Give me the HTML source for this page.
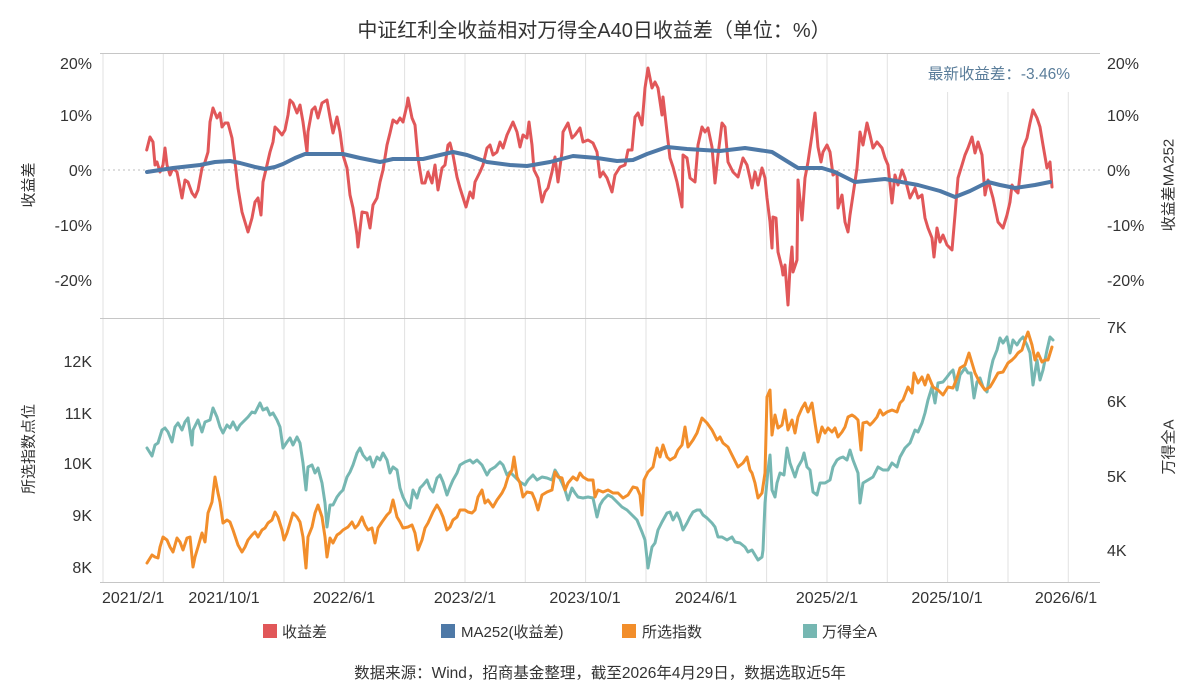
<!DOCTYPE html>
<html><head><meta charset="utf-8"><style>
html,body{margin:0;padding:0;background:#fff;}
svg{display:block;font-family:"Liberation Sans","Noto Sans CJK SC",sans-serif;}
</style></head><body>
<svg width="1200" height="700" viewBox="0 0 1200 700" xmlns="http://www.w3.org/2000/svg">
<rect width="1200" height="700" fill="#fff"/>
<text x="594" y="37" font-size="20" fill="#333" text-anchor="middle">中证红利全收益相对万得全A40日收益差（单位：%）</text>
<g stroke="#e2e2e2" stroke-width="1">
<line x1="103" y1="53" x2="103" y2="582"/><line x1="163.3" y1="53" x2="163.3" y2="582"/><line x1="223.6" y1="53" x2="223.6" y2="582"/><line x1="284" y1="53" x2="284" y2="582"/><line x1="344.3" y1="53" x2="344.3" y2="582"/><line x1="404.6" y1="53" x2="404.6" y2="582"/><line x1="465" y1="53" x2="465" y2="582"/><line x1="525.3" y1="53" x2="525.3" y2="582"/><line x1="585.6" y1="53" x2="585.6" y2="582"/><line x1="646" y1="53" x2="646" y2="582"/><line x1="706.3" y1="53" x2="706.3" y2="582"/><line x1="766.6" y1="53" x2="766.6" y2="582"/><line x1="827" y1="53" x2="827" y2="582"/><line x1="887.3" y1="53" x2="887.3" y2="582"/><line x1="947.6" y1="53" x2="947.6" y2="582"/><line x1="1008" y1="53" x2="1008" y2="582"/><line x1="1068.3" y1="53" x2="1068.3" y2="582"/>
</g>
<rect x="918" y="54" width="158" height="38" fill="#fff"/>
<g stroke="#c6c6c6" stroke-width="1">
<line x1="100" y1="53.5" x2="1100" y2="53.5"/><line x1="100" y1="318.5" x2="1100" y2="318.5"/><line x1="100" y1="582.5" x2="1100" y2="582.5"/>
</g>
<line x1="103" y1="170" x2="1100" y2="170" stroke="#bdbdbd" stroke-width="1" stroke-dasharray="2,3"/>
<text x="1070" y="79" font-size="15.5" fill="#5a7d9a" text-anchor="end">最新收益差：-3.46%</text>
<g font-size="16" fill="#333" text-anchor="end">
<text x="92" y="69">20%</text><text x="92" y="121">10%</text><text x="92" y="176">0%</text><text x="92" y="231">-10%</text><text x="92" y="286">-20%</text>
<text x="92" y="367">12K</text><text x="92" y="419">11K</text><text x="92" y="469">10K</text><text x="92" y="521">9K</text><text x="92" y="573">8K</text>
</g>
<g font-size="16" fill="#333" text-anchor="start">
<text x="1107" y="69">20%</text><text x="1107" y="121">10%</text><text x="1107" y="176">0%</text><text x="1107" y="231">-10%</text><text x="1107" y="286">-20%</text>
<text x="1107" y="333">7K</text><text x="1107" y="407">6K</text><text x="1107" y="482">5K</text><text x="1107" y="556">4K</text>
</g>
<g font-size="16" fill="#333" text-anchor="middle">
<text x="102" y="603" text-anchor="start">2021/2/1</text><text x="224" y="603">2021/10/1</text><text x="344" y="603">2022/6/1</text><text x="465" y="603">2023/2/1</text><text x="585" y="603">2023/10/1</text><text x="706" y="603">2024/6/1</text><text x="827" y="603">2025/2/1</text><text x="947" y="603">2025/10/1</text><text x="1066" y="603">2026/6/1</text>
</g>
<g font-size="15" fill="#333" text-anchor="middle" dominant-baseline="central">
<text transform="translate(29,185) rotate(-90)">收益差</text>
<text transform="translate(29,449) rotate(-90)">所选指数点位</text>
<text transform="translate(1169,185) rotate(-90)">收益差MA252</text>
<text transform="translate(1169,447) rotate(-90)">万得全A</text>
</g>
<g fill="none" stroke-linejoin="round" stroke-linecap="round">
<polyline stroke="#e15759" stroke-width="3" points="146.7,150 150,137 153,142 155,165 157,162 160,172 163,165 165,148 167,165 170,175 173,168 177,172 182,198 185,180 188,182 192,193 195,197 198,190 202,168 205,162 208,152 210,122 213,108 217,118 220,113 222,127 225,123 228,123 232,138 235,162 238,188 242,212 245,222 248,232 252,218 255,202 258,198 261,215 263,182 267,165 270,152 273,142 275,127 278,130 282,135 285,130 288,115 290,100 293,103 297,113 300,105 303,122 307,152 308,132 312,110 315,107 318,118 322,103 327,100 330,117 333,133 337,117 340,132 343,155 347,168 350,195 353,208 357,235 358,247 362,212 367,213 370,228 373,205 377,198 380,182 383,170 387,145 390,133 393,120 397,123 400,118 403,122 407,105 408,98 412,118 415,125 418,158 422,183 425,183 428,172 432,183 435,165 438,190 442,168 445,165 448,145 450,143 453,155 457,177 460,188 466,207 470,192 473,198 475,182 480,172 483,165 487,148 490,145 493,155 497,152 500,142 503,148 507,135 513,122 517,132 520,147 523,135 527,138 529,122 532,145 534,170 538,178 542,202 545,192 548,188 552,172 555,157 558,182 562,152 563,132 568,123 572,138 575,135 580,128 583,142 588,140 593,143 597,152 600,177 603,172 607,178 612,192 615,175 620,167 625,165 628,150 632,150 635,117 638,113 642,125 645,88 648,68 652,88 655,82 658,88 662,115 663,97 667,132 670,158 673,167 677,182 682,207 683,155 687,158 690,178 695,182 698,145 702,127 705,132 708,128 712,147 715,183 718,155 722,123 725,127 728,162 733,172 738,177 743,158 747,165 750,178 752,188 755,172 758,185 762,168 765,178 767,198 770,222 772,248 773,217 776,218 778,252 782,268 783,275 785,265 788,305 790,268 792,247 793,272 797,260 798,180 802,220 805,178 808,162 812,135 815,113 818,147 821,162 823,152 827,145 830,152 833,175 837,172 838,208 842,195 845,222 848,232 850,215 853,195 857,168 860,132 863,145 867,123 870,135 873,148 877,142 882,148 885,158 888,165 892,203 895,175 898,185 902,170 905,178 910,198 915,188 918,198 922,195 925,218 928,228 932,238 934,257 937,228 940,242 943,235 947,245 952,250 955,215 958,178 962,165 965,155 968,148 972,137 975,153 978,142 982,155 985,195 988,180 993,198 998,222 1003,228 1007,215 1010,202 1012,185 1015,190 1018,193 1023,148 1027,138 1030,123 1033,110 1037,118 1040,127 1043,145 1047,168 1050,162 1052,187"/>
<polyline stroke="#4e79a7" stroke-width="4" points="147,172 173,168 200,165 215,162 230,161 240,163 255,167 265,169 275,167 283,164 295,158 305,154 320,154 343,154 360,158 380,162 393,159 423,159 440,155 453,152 467,155 487,162 510,165 527,166 550,162 573,156 597,158 617,161 633,160 647,154 667,147 687,149 720,151 745,148 772,152 785,160 798,168 822,168 835,172 855,182 885,179 918,185 940,191 955,197 970,191 988,182 1000,185 1015,188 1035,185 1050,182"/>
<polyline stroke="#76b7b2" stroke-width="3" points="147,448 152,456 155,445 158,443 162,430 165,428 168,432 172,442 175,427 178,423 182,430 185,422 188,418 192,445 193,430 198,420 202,432 205,422 210,420 213,408 217,417 220,427 223,433 227,425 230,428 233,422 237,430 240,425 245,420 248,417 252,412 255,413 260,403 263,410 267,408 270,415 273,413 277,420 280,427 283,448 287,442 290,438 293,445 297,437 300,443 303,463 306,490 308,467 312,465 315,473 318,468 322,483 325,503 327,527 330,505 333,505 337,497 340,493 343,490 347,477 350,472 353,465 357,453 360,448 363,455 367,460 370,457 373,467 377,457 380,460 383,453 387,460 390,473 393,467 397,470 400,488 403,497 407,505 410,508 413,490 417,498 420,488 423,485 427,480 430,488 433,492 437,478 440,475 443,482 447,495 450,487 453,480 457,473 460,465 465,462 470,460 473,463 477,460 482,465 487,475 490,470 495,467 500,462 503,465 507,475 510,472 515,477 520,482 525,485 528,480 533,475 537,480 542,477 547,478 552,480 555,470 558,475 562,483 565,490 568,500 572,488 575,493 578,497 583,498 588,497 593,498 597,517 600,505 603,500 608,495 612,497 617,502 622,507 627,510 632,515 637,520 642,532 645,540 648,568 652,547 655,543 658,530 662,522 667,513 670,512 673,520 677,513 680,520 683,530 687,523 690,517 693,512 697,510 700,510 703,515 707,518 712,523 715,527 718,537 722,537 727,540 732,537 735,542 740,543 745,547 748,552 752,550 755,555 758,560 762,557 763,550 765,503 768,470 770,455 772,490 775,497 777,483 780,473 784,475 787,448 790,463 795,477 798,467 802,460 804,453 807,467 810,470 813,492 817,495 820,483 825,483 830,480 833,467 837,460 840,458 843,457 847,460 850,450 853,460 858,473 860,503 863,483 868,480 873,477 878,467 883,470 888,470 892,463 897,467 900,457 905,448 910,443 915,430 918,432 922,423 925,413 928,400 932,387 935,403 938,383 943,382 947,377 950,373 953,370 957,390 960,375 965,368 968,373 971,373 974,398 977,382 980,378 983,387 987,392 990,373 993,360 997,350 1000,338 1003,343 1007,337 1010,353 1013,340 1017,345 1020,340 1023,337 1027,345 1030,353 1033,385 1037,360 1040,380 1043,370 1047,350 1050,337 1053,340"/>
<polyline stroke="#f28e2b" stroke-width="3" points="147,563 152,555 155,557 158,558 160,547 163,537 167,540 170,547 173,552 177,538 180,542 183,550 187,538 190,537 193,567 195,557 198,547 202,533 205,542 208,513 212,502 215,477 218,493 220,502 223,523 227,520 230,522 233,530 238,545 242,552 245,547 248,540 252,535 255,532 258,537 262,530 265,528 268,523 272,520 275,512 278,517 282,530 284,540 287,533 290,523 293,513 297,517 300,522 303,537 306,568 308,537 312,527 315,513 318,505 322,517 325,537 327,557 330,538 333,543 337,535 340,533 343,530 348,527 352,522 355,528 358,525 362,517 365,525 368,530 372,528 375,543 378,528 382,522 387,515 390,512 393,500 397,517 400,522 403,528 408,527 412,525 415,533 418,550 422,540 425,528 428,523 433,512 437,505 440,510 443,517 447,530 450,527 453,520 457,517 460,510 465,510 468,512 472,513 475,510 478,497 482,490 485,503 488,500 493,507 497,500 502,493 505,487 508,477 512,470 514,457 517,477 520,483 523,497 527,492 532,493 535,500 538,510 542,495 547,492 552,490 555,472 558,477 562,478 565,490 568,483 573,477 577,480 580,473 583,477 588,480 593,480 595,497 598,490 603,492 608,490 613,493 618,493 623,498 628,495 633,487 637,488 640,495 642,515 644,480 648,472 653,467 657,448 660,457 663,445 667,457 670,460 675,457 678,450 682,445 685,427 688,447 693,440 697,433 702,418 707,423 712,430 717,440 720,437 723,443 728,447 733,457 738,467 743,463 747,457 750,470 752,473 755,483 758,498 762,493 765,473 767,397 770,390 772,435 775,415 778,428 782,425 785,410 788,430 792,420 795,433 798,417 802,408 805,403 808,412 812,403 815,423 818,442 822,427 825,433 828,428 832,432 835,428 838,437 842,432 845,427 848,417 852,415 855,417 858,420 861,450 863,423 867,422 870,425 873,422 877,417 880,410 883,415 887,412 892,410 897,412 900,403 903,400 908,387 912,393 914,373 918,383 922,377 925,385 928,375 933,387 938,390 943,395 948,387 953,388 957,378 960,368 965,365 969,353 972,363 975,373 980,383 985,390 990,387 993,382 998,373 1003,372 1008,363 1012,360 1015,357 1018,353 1022,350 1025,340 1028,332 1032,345 1035,360 1038,353 1042,362 1045,360 1048,360 1052,347"/>
</g>
<g font-size="15" fill="#333">
<rect x="263" y="624" width="14" height="14" fill="#e15759"/><text x="282" y="637">收益差</text>
<rect x="441" y="624" width="14" height="14" fill="#4e79a7"/><text x="461" y="637">MA252(收益差)</text>
<rect x="622" y="624" width="14" height="14" fill="#f28e2b"/><text x="642" y="637">所选指数</text>
<rect x="803" y="624" width="14" height="14" fill="#76b7b2"/><text x="822" y="637">万得全A</text>
</g>
<text x="600" y="678" font-size="15.5" fill="#333" text-anchor="middle">数据来源：Wind，招商基金整理，截至2026年4月29日，数据选取近5年</text>
</svg>
</body></html>
